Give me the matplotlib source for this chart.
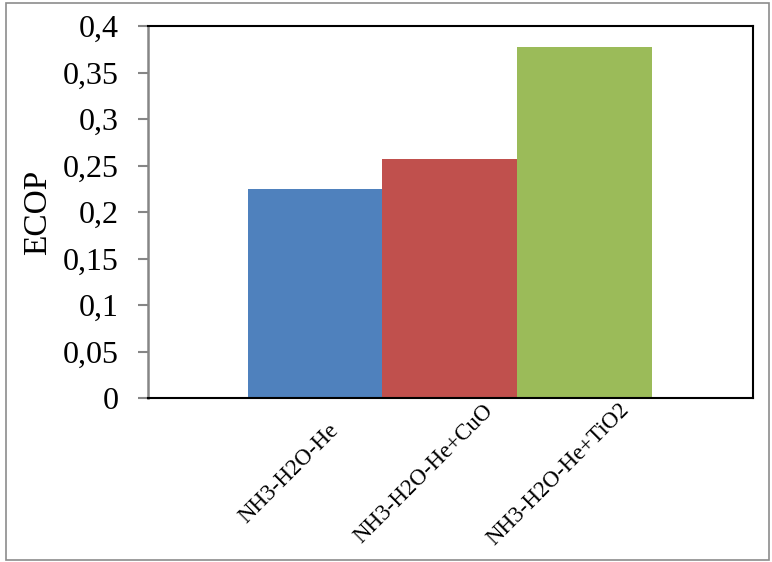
import numpy as np
import matplotlib
matplotlib.use("Agg")
import matplotlib.pyplot as plt
from matplotlib.ticker import FuncFormatter, MultipleLocator
from matplotlib.transforms import offset_copy
from matplotlib.patches import Rectangle

# data
categories = ['NH3-H2O-He', 'NH3-H2O-He+CuO', 'NH3-H2O-He+TiO2']
ecop = [0.225, 0.257, 0.377]
colors = ['#4F81BD', '#C0504D', '#9BBB59']

plt.rcParams['font.family'] = ['Liberation Serif', 'DejaVu Serif']

fig = plt.figure(figsize=(7.72, 5.62), dpi=100)
ax = fig.add_axes([0.1917, 0.2918, 0.7837, 0.6619])

# outer chart frame (Excel style)
fig.patches.append(Rectangle((6 / 772, 2 / 562), 763 / 772, 557 / 562,
                             transform=fig.transFigure, fill=False,
                             edgecolor='#8c8c8c', linewidth=1.2))

x = np.arange(len(categories))
ax.bar(x, ecop, width=1.0, color=colors, edgecolor='none', zorder=2)

ax.set_xlim(-1.24, 3.25)
ax.set_ylim(0, 0.4)
ax.yaxis.set_major_locator(MultipleLocator(0.05))

def comma_fmt(v, pos):
    s = ('%.2f' % v).rstrip('0').rstrip('.')
    return s.replace('.', ',')

ax.yaxis.set_major_formatter(FuncFormatter(comma_fmt))
ax.tick_params(axis='y', direction='out', length=7.2, width=1.5,
               color='#868686', labelsize=23, pad=14)
ax.set_xticks([])

for side in ['top', 'right', 'bottom']:
    ax.spines[side].set_color('black')
    ax.spines[side].set_linewidth(1.5)
ax.spines['left'].set_color('#868686')
ax.spines['left'].set_linewidth(1.8)
ax.spines['bottom'].set_zorder(3)

ax.set_ylabel('ECOP', fontsize=24, labelpad=7)

# rotated category labels below the axis
trans = offset_copy(ax.get_xaxis_transform(), fig=fig, x=-26, y=-76, units='dots')
for i, lab in enumerate(categories):
    ax.text(x[i], 0, lab, transform=trans, rotation=45, rotation_mode='anchor',
            ha='center', va='center', fontsize=16.5)

fig.savefig('out.png', dpi=100)
